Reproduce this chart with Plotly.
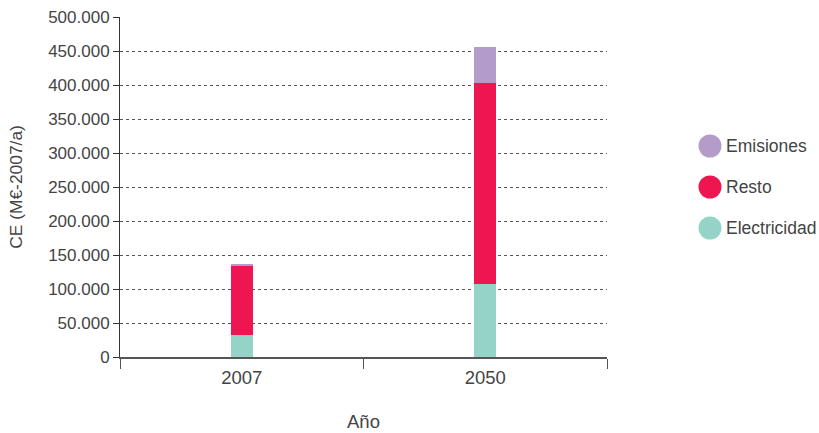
import plotly.graph_objects as go

years = ["2007", "2050"]
electricidad = [32000, 107000]
resto = [102000, 295500]
emisiones = [2500, 53500]

series_names = ["Electricidad", "Resto", "Emisiones"]
series_values = [electricidad, resto, emisiones]
colors = ["#94d3c5", "#ee1651", "#b39cc9"]

FONT = "Liberation Sans, Arial, sans-serif"
TXT = "#444444"

fig = go.Figure()
for name, vals, col in zip(series_names, series_values, colors):
    fig.add_trace(go.Bar(x=years, y=vals, name=name, marker=dict(color=col, line=dict(width=0)),
                         width=0.09, showlegend=False))

# plot area in pixels
L, R, T, B = 120, 607, 17, 357
W, H = R - L, B - T

def px(x):
    return (x - L) / W

def py(y):
    return (B - y) / H

legend_items = [("Emisiones", "#b39cc9", 146), ("Resto", "#ee1651", 187), ("Electricidad", "#94d3c5", 228)]
shapes = []
annotations = []
r = 11.5
cx = 710
for label, col, cy in legend_items:
    shapes.append(dict(type="circle", xref="paper", yref="paper",
                       x0=px(cx - r), x1=px(cx + r), y0=py(cy + r), y1=py(cy - r),
                       fillcolor=col, line=dict(width=0)))
    annotations.append(dict(xref="paper", yref="paper", x=px(724), y=py(cy), text=label,
                            showarrow=False, xanchor="left", yanchor="middle",
                            font=dict(family=FONT, size=17.5, color=TXT)))

fig.update_layout(
    width=819, height=433,
    margin=dict(l=L, r=819 - R, t=T, b=433 - B),
    paper_bgcolor="white", plot_bgcolor="white",
    barmode="stack",
    separators=",.",
    font=dict(family=FONT, size=17, color=TXT),
    shapes=shapes, annotations=annotations,
    showlegend=False,
    xaxis=dict(
        automargin=False,
        showline=True, linecolor="#555555", linewidth=2,
        ticks="outside", tickson="boundaries", ticklen=10, tickcolor="#555555", tickwidth=1,
        ticklabelstandoff=3,
        showgrid=False,
        tickfont=dict(family=FONT, size=18.5, color=TXT),
        title=dict(text="Año", standoff=28, font=dict(family=FONT, size=18.5, color=TXT)),
    ),
    yaxis=dict(
        automargin=False,
        range=[0, 500000], dtick=50000, tickformat=",d",
        showline=True, linecolor="#333333", linewidth=1,
        ticks="outside", ticklen=6, tickcolor="#333333",
        showgrid=True, gridcolor="#555555", gridwidth=1, griddash="3px,3px",
        zeroline=False,
        tickfont=dict(family=FONT, size=17, color=TXT),
        title=dict(text="CE (M€-2007/a)", standoff=21, font=dict(family=FONT, size=17.4, color=TXT)),
    ),
)

fig.write_html("out.html", config={"displayModeBar": False},
               post_script="document.body.style.margin='0';")
